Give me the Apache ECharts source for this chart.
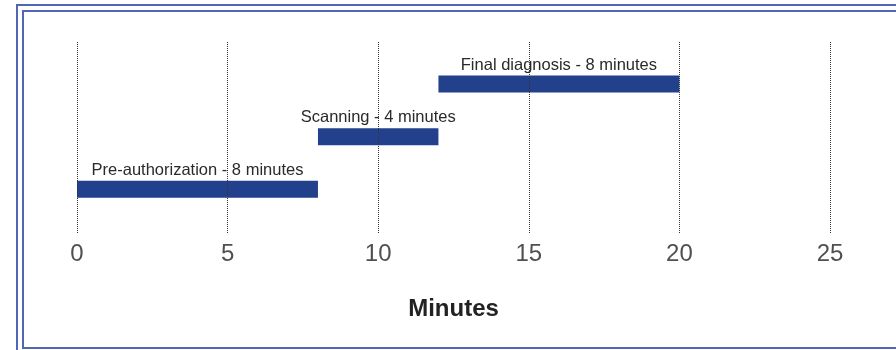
<!DOCTYPE html>
<html>
<head>
<meta charset="utf-8">
<script src="https://cdn.jsdelivr.net/npm/echarts@6/dist/echarts.min.js"></script>
<style>
  html, body { margin: 0; padding: 0; background: #fff; }
  #chart { width: 896px; height: 350px; }
</style>
</head>
<body>
<div id="chart"></div>
<script>
// Workflow steps, bottom row first
const tasks = ['Pre-authorization', 'Scanning', 'Final diagnosis'];
const startMin = [0, 8, 12];
const durationMin = [8, 4, 8];
const rows = [1, 2, 3];
const xTicks = [0, 5, 10, 15, 20, 25];

const barColor = '#22408c';
const frameColor = '#5068b4';

const seriesData = tasks.map((t, i) => [
  startMin[i],
  startMin[i] + durationMin[i],
  rows[i],
  t + ' - ' + durationMin[i] + ' minutes'
]);

const chart = echarts.init(document.getElementById('chart'), null, { renderer: 'canvas' });

chart.setOption({
  animation: false,
  backgroundColor: '#fff',
  textStyle: { fontFamily: '"Liberation Sans", Arial, sans-serif' },
  grid: { left: 77, right: 66, top: 42, bottom: 116, containLabel: false },
  xAxis: {
    type: 'value',
    min: xTicks[0],
    max: xTicks[xTicks.length - 1],
    interval: 5,
    z: 10,
    axisLine: { show: false },
    axisTick: { show: false },
    axisLabel: {
      margin: 8,
      fontSize: 24,
      color: '#505050',
      fontFamily: '"Liberation Sans", Arial, sans-serif'
    },
    splitLine: {
      show: true,
      lineStyle: { type: 'dotted', color: '#333', width: 1 }
    },
    name: 'Minutes',
    nameLocation: 'middle',
    nameGap: 63,
    nameTextStyle: {
      fontSize: 24,
      fontWeight: 'bold',
      color: '#222',
      fontFamily: '"Liberation Sans", Arial, sans-serif'
    }
  },
  yAxis: {
    type: 'value',
    min: 0.15,
    max: 3.8,
    show: false,
    splitLine: { show: false }
  },
  series: [{
    type: 'custom',
    data: seriesData,
    encode: { x: [0, 1], y: 2 },
    renderItem: function (params, api) {
      const a = api.coord([api.value(0), api.value(2)]);
      const b = api.coord([api.value(1), api.value(2)]);
      const h = 17;
      return {
        type: 'rect',
        shape: { x: a[0], y: a[1] - h / 2, width: b[0] - a[0], height: h },
        style: { fill: barColor },
        textContent: {
          style: {
            text: api.value(3),
            fontSize: 16.5,
            fill: '#2a2a2a',
            fontFamily: '"Liberation Sans", Arial, sans-serif'
          }
        },
        textConfig: { position: 'top', distance: 2 }
      };
    }
  }],
  graphic: [
    {
      type: 'rect',
      shape: { x: 17, y: 5, width: 1000, height: 400 },
      style: { fill: 'none', stroke: frameColor, lineWidth: 2 },
      silent: true
    },
    {
      type: 'rect',
      shape: { x: 23, y: 11, width: 1000, height: 337 },
      style: { fill: 'none', stroke: frameColor, lineWidth: 2 },
      silent: true
    }
  ]
});
</script>
</body>
</html>
